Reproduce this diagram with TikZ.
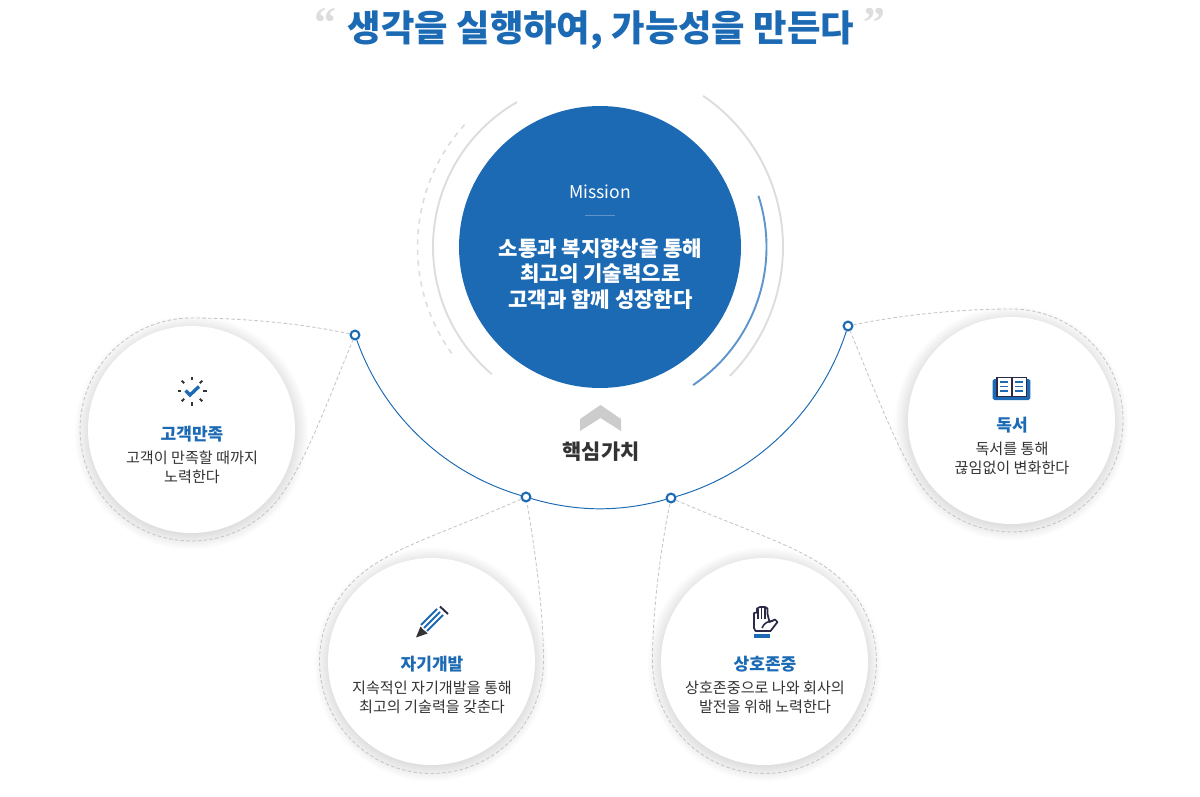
\documentclass[tikz,border=0pt]{standalone}
\usepackage{fontspec}
\setmainfont{Noto Sans CJK KR}
\newfontfamily\quotefont{Liberation Serif}
\definecolor{mainblue}{HTML}{1C6AB4}
\definecolor{softblue}{HTML}{5E95CB}
\definecolor{arcgray}{HTML}{DDDDDD}
\definecolor{dashgray}{HTML}{C6C6C6}
\definecolor{darktxt}{HTML}{333333}
\definecolor{icondark}{HTML}{2A2A48}
\begin{document}
\begin{tikzpicture}[x=0.02cm, y=-0.02cm,
    titletxt/.style={font=\fontsize{20.7}{25}\selectfont\bfseries, text=mainblue},
    quotetxt/.style={font=\fontsize{25}{25}\selectfont\quotefont\bfseries, text=arcgray},
    missiontxt/.style={font=\fontsize{10}{12}\selectfont, text=white},
    goaltxt/.style={font=\fontsize{12}{14.3}\selectfont\bfseries, text=white, align=center},
    coretxt/.style={font=\fontsize{11.9}{14}\selectfont\bfseries, text=darktxt},
    headtxt/.style={font=\fontsize{9.7}{12}\selectfont\bfseries, text=mainblue},
    desctxt/.style={font=\fontsize{8.6}{10.9}\selectfont, text=darktxt, align=center},
    valuecircle/.style={circle, fill=white, minimum size=4.14cm, inner sep=0pt},
    dotnode/.style={circle, draw=mainblue, fill=white, line width=1.2pt, minimum size=5pt, inner sep=0pt},
    tear/.style={draw=dashgray, line width=0.5pt, dash pattern=on 2pt off 1.3pt},
    ring/.style={draw=arcgray, line width=1.1pt},
    link/.style={draw=mainblue, line width=0.55pt}]
  \useasboundingbox (0,0) rectangle (1200,797);

  \node[titletxt] (title) at (601,30) {생각을 실행하여, 가능성을 만든다};
  \node[quotetxt] (openq) at (325,23) {“};
  \node[quotetxt] (closeq) at (874,23) {”};

  \node[circle, fill=mainblue, minimum size=5.64cm, inner sep=0pt] (mission) at (600,247) {};
  \draw[ring] ([shift={(-55.7:183)}]mission.center) arc[start angle=-55.7, end angle=44.8, radius=183];
  \draw[ring] ([shift={(-119.8:167)}]mission.center) arc[start angle=-119.8, end angle=-229.6, radius=167];
  \draw[ring, dashed, line width=0.9pt] ([shift={(-137.9:182.5)}]mission.center) arc[start angle=-137.9, end angle=-216.3, radius=182.5];
  \draw[draw=softblue, line width=1.1pt] ([shift={(-17.9:166.5)}]mission.center) arc[start angle=-17.9, end angle=56, radius=166.5];
  \node[missiontxt] (missionlabel) at (600,192) {Mission};
  \draw[draw=softblue, line width=0.8pt] (585,215.5) -- (615,215.5);
  \node[goaltxt] (goal) at (600.5,274) {소통과 복지향상을 통해\\최고의 기술력으로\\고객과 함께 성장한다};

  \fill[fill=black!20] (580,419) -- (600.5,405) -- (621,419) -- (621,431) -- (600.5,418) -- (580,431) -- cycle;
  \node[coretxt] (core) at (601,452) {핵심가치};

  \foreach \name/\x/\y in {satisfy/191.5/429.5, growth/431.5/661.5, respect/764.5/661.5, reading/1011.5/420.5} {
    \foreach \r in {1,...,16}
      \fill[black, opacity=0.008] (\x,\y+3) circle[radius=101+\r];
    \node[valuecircle] (\name) at (\x,\y) {};
  }

  \node[dotnode] (dotsatisfy) at (355,335) {};
  \node[dotnode] (dotgrowth) at (526,497) {};
  \node[dotnode] (dotrespect) at (671,498) {};
  \node[dotnode] (dotreading) at (848,326) {};
  \draw[link] (dotsatisfy) to[bend right=27, looseness=0.9] (dotgrowth);
  \draw[link] (dotgrowth) to[bend right=16, looseness=0.9] (dotrespect);
  \draw[link] (dotrespect) to[bend right=28, looseness=0.9] (dotreading);

  \draw[tear] (dotsatisfy) .. controls (300,323) and (240,318) .. (191.5,318)
    arc[start angle=-90, end angle=-315, radius=111.5]
    .. controls (300,479) and (330,395) .. (dotsatisfy);
  \draw[tear] (dotgrowth) .. controls (440,535) and (385,549) .. (352.3,582.3)
    arc[start angle=-135, end angle=-360, radius=112]
    .. controls (543.5,610) and (535,550) .. (dotgrowth);
  \draw[tear] (dotrespect) .. controls (756,535) and (811,549) .. (843.7,582.3)
    arc[start angle=-45, end angle=180, radius=112]
    .. controls (652.5,610) and (660.5,550) .. (dotrespect);
  \draw[tear] (dotreading) .. controls (900,315) and (960,309) .. (1011.5,309)
    arc[start angle=-90, end angle=135, radius=111.5]
    .. controls (905,473) and (875,390) .. (dotreading);

  \foreach \a in {0,45,...,315}
    \draw[darktxt, line width=1.1pt] ([shift={(\a:11)}]192,391) -- ([shift={(\a:14.5)}]192,391);
  \draw[mainblue, line width=1.9pt] (185.5,390.5) -- (190,395) -- (199,386.5);
  \node[headtxt] (headsatisfy) at (192,434) {고객만족};
  \node[desctxt] (descsatisfy) at (192,467) {고객이 만족할 때까지\\노력한다};

  \draw[mainblue, line width=1.1pt] (421,625) -- (437,609) (424,628) -- (440,612) (427,631) -- (443,615);
  \draw[icondark, line width=1.1pt] (440,606.5) -- (448,614);
  \fill[darktxt] (416,637.5) -- (420.5,626.5) -- (423,629.5) -- (425,631) -- (427.5,633.5) -- cycle;
  \node[headtxt] (headgrowth) at (432,664) {자기개발};
  \node[desctxt] (descgrowth) at (432,697) {지속적인 자기개발을 통해\\최고의 기술력을 갖춘다};

  \draw[icondark, line width=1pt, line join=round] (755.5,631) -- (754,628) -- (754,613)
    -- (757,612.5) -- (757,608.5) -- (760,607) -- (765,607) -- (767.5,608.5) -- (767.5,614) -- (769.5,622)
    -- (775,619.5) -- (777.5,622) -- (770.5,631) -- cycle;
  \draw[icondark, line width=0.9pt] (758,609) -- (758,619) (761.5,608) -- (761.5,619) (765,608) -- (765,619);
  \draw[icondark, line width=0.9pt] (762,628) .. controls (764,623) and (768,621) .. (773,621);
  \fill[mainblue] (754,633.5) rectangle (769.5,638);
  \node[headtxt] (headrespect) at (765,664) {상호존중};
  \node[desctxt] (descrespect) at (765,697) {상호존중으로 나와 회사의\\발전을 위해 노력한다};

  \fill[mainblue, rounded corners=1pt] (992.7,379) rectangle (1030.3,400);
  \draw[icondark, fill=white, line width=1.1pt] (997,377.5) rectangle (1026.5,396.5);
  \draw[icondark, line width=1.1pt] (1011.7,377.5) -- (1011.7,396.5);
  \draw[mainblue, line width=1pt] (1000,382) -- (1008.3,382) (1000,386.5) -- (1008.3,386.5) (1000,391) -- (1008.3,391)
    (1015,382) -- (1023.3,382) (1015,386.5) -- (1023.3,386.5) (1015,391) -- (1023.3,391);
  \node[headtxt] (headreading) at (1012,425) {독서};
  \node[desctxt] (descreading) at (1012,458) {독서를 통해\\끊임없이 변화한다};
\end{tikzpicture}
\end{document}
